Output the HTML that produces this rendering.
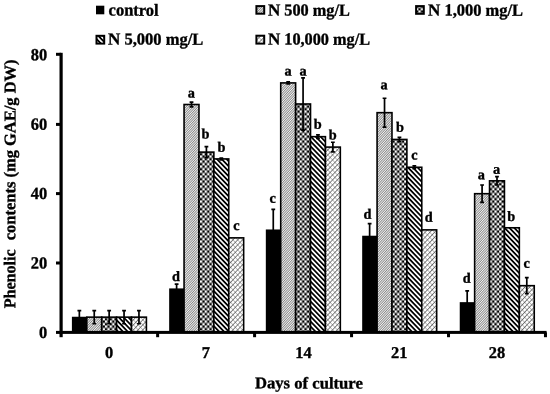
<!DOCTYPE html>
<html><head><meta charset="utf-8"><title>chart</title>
<style>
html,body{margin:0;padding:0;background:#fff;}
svg{display:block;will-change:transform;}
text{font-family:"Liberation Serif",serif;font-weight:bold;fill:#000;stroke:#000;stroke-width:0.35px;stroke-linejoin:round;}
</style></head><body>
<svg width="550" height="394" viewBox="0 0 550 394">
<defs>
<pattern id="p1" patternUnits="userSpaceOnUse" width="1.72" height="8" patternTransform="rotate(43.5)">
<rect width="1.72" height="8" fill="#f4f4f4"/>
<rect x="0" y="0" width="0.52" height="8" fill="#3c3c3c"/>
</pattern>
<pattern id="p2" patternUnits="userSpaceOnUse" width="4.75" height="5" x="0.4" y="0.4">
<rect width="4.75" height="5" fill="#000"/>
<rect x="0" y="0" width="2.375" height="2.5" fill="#fff"/>
<rect x="2.375" y="2.5" width="2.375" height="2.5" fill="#fff"/>
</pattern>
<pattern id="p3" patternUnits="userSpaceOnUse" width="3.47" height="8" patternTransform="rotate(-43.9)">
<rect width="3.47" height="8" fill="#fff"/>
<rect x="0" y="0" width="1.76" height="8" fill="#000"/>
</pattern>
<pattern id="p4a" patternUnits="userSpaceOnUse" width="3.44" height="8" patternTransform="rotate(-43.5)">
<rect width="3.44" height="8" fill="#fff"/>
<rect x="0" y="0" width="0.55" height="8" fill="#8c8c8c"/>
</pattern>
<pattern id="p4b" patternUnits="userSpaceOnUse" width="3.44" height="8" patternTransform="rotate(43.5)">
<rect x="0" y="0" width="0.7" height="8" fill="#505050"/>
</pattern>
</defs>
<rect width="550" height="394" fill="#fff"/>

<rect x="96.00" y="5.70" width="8.30" height="8.60" fill="#000"/>
<text transform="rotate(0.06 108.9 15.6)" x="108.60" y="15.6" font-size="17" textLength="50.10" lengthAdjust="spacingAndGlyphs">control</text>
<rect x="256.40" y="6.10" width="7.80" height="7.60" fill="url(#p1)" stroke="#000" stroke-width="2.0"/>
<text transform="rotate(0.06 267.9 15.6)" x="267.90" y="15.6" font-size="17" textLength="12.3" lengthAdjust="spacingAndGlyphs">N</text>
<text transform="rotate(0.06 280.2 15.6)" x="280.20" y="15.6" font-size="17" textLength="69.70" lengthAdjust="spacingAndGlyphs" xml:space="preserve"> 500 mg/L</text>
<rect x="416.10" y="6.10" width="7.70" height="7.70" fill="url(#p2)" stroke="#000" stroke-width="2.0"/>
<text transform="rotate(0.06 428.1 15.6)" x="428.10" y="15.6" font-size="17" textLength="12.3" lengthAdjust="spacingAndGlyphs">N</text>
<text transform="rotate(0.06 440.4 15.6)" x="440.40" y="15.6" font-size="17" textLength="82.70" lengthAdjust="spacingAndGlyphs" xml:space="preserve"> 1,000 mg/L</text>
<rect x="96.50" y="35.80" width="7.70" height="7.80" fill="url(#p3)" stroke="#000" stroke-width="2.0"/>
<text transform="rotate(0.06 108.0 44.6)" x="108.00" y="44.6" font-size="17" textLength="12.3" lengthAdjust="spacingAndGlyphs">N</text>
<text transform="rotate(0.06 120.3 44.6)" x="120.30" y="44.6" font-size="17" textLength="83.00" lengthAdjust="spacingAndGlyphs" xml:space="preserve"> 5,000 mg/L</text>
<rect x="256.40" y="35.70" width="7.80" height="7.90" fill="url(#p4a)"/>
<rect x="256.40" y="35.70" width="7.80" height="7.90" fill="url(#p4b)" stroke="#000" stroke-width="2.0"/>
<text transform="rotate(0.06 267.9 44.6)" x="267.90" y="44.6" font-size="17" textLength="12.3" lengthAdjust="spacingAndGlyphs">N</text>
<text transform="rotate(0.06 280.2 44.6)" x="280.20" y="44.6" font-size="17" textLength="89.90" lengthAdjust="spacingAndGlyphs" xml:space="preserve"> 10,000 mg/L</text>
<rect x="71.90" y="316.75" width="15.70" height="15.65" fill="#000"/>
<rect x="86.80" y="317.15" width="14.90" height="15.25" fill="url(#p1)" stroke="#000" stroke-width="1.6"/>
<rect x="101.70" y="317.15" width="14.90" height="15.25" fill="url(#p2)" stroke="#000" stroke-width="1.6"/>
<rect x="116.60" y="317.15" width="14.90" height="15.25" fill="url(#p3)" stroke="#000" stroke-width="1.6"/>
<rect x="131.50" y="317.15" width="14.90" height="15.25" fill="url(#p4a)"/>
<rect x="131.50" y="317.15" width="14.90" height="15.25" fill="url(#p4b)" stroke="#000" stroke-width="1.6"/>
<path d="M79.35,310.64 L79.35,323.86 M77.45,310.64 L81.25,310.64 M77.45,323.86 L81.25,323.86" stroke="#000" stroke-width="1.7" fill="none"/>
<path d="M94.25,310.54 L94.25,323.76 M92.35,310.54 L96.15,310.54 M92.35,323.76 L96.15,323.76" stroke="#000" stroke-width="1.7" fill="none"/>
<path d="M109.15,310.54 L109.15,323.76 M107.25,310.54 L111.05,310.54 M107.25,323.76 L111.05,323.76" stroke="#000" stroke-width="1.7" fill="none"/>
<path d="M124.05,310.54 L124.05,323.76 M122.15,310.54 L125.95,310.54 M122.15,323.76 L125.95,323.76" stroke="#000" stroke-width="1.7" fill="none"/>
<path d="M138.95,310.54 L138.95,323.76 M137.05,310.54 L140.85,310.54 M137.05,323.76 L140.85,323.76" stroke="#000" stroke-width="1.7" fill="none"/>
<rect x="169.16" y="288.41" width="15.70" height="43.99" fill="#000"/>
<rect x="184.06" y="104.50" width="14.90" height="227.90" fill="url(#p1)" stroke="#000" stroke-width="1.6"/>
<rect x="198.96" y="152.11" width="14.90" height="180.29" fill="url(#p2)" stroke="#000" stroke-width="1.6"/>
<rect x="213.86" y="158.92" width="14.90" height="173.47" fill="url(#p3)" stroke="#000" stroke-width="1.6"/>
<rect x="228.76" y="237.86" width="14.90" height="94.54" fill="url(#p4a)"/>
<rect x="228.76" y="237.86" width="14.90" height="94.54" fill="url(#p4b)" stroke="#000" stroke-width="1.6"/>
<path d="M176.61,284.04 L176.61,293.78 M174.71,284.04 L178.51,284.04 M174.71,293.78 L178.51,293.78" stroke="#000" stroke-width="1.7" fill="none"/>
<path d="M191.51,102.07 L191.51,106.94 M189.61,102.07 L193.41,102.07 M189.61,106.94 L193.41,106.94" stroke="#000" stroke-width="1.7" fill="none"/>
<path d="M206.41,146.55 L206.41,157.67 M204.51,146.55 L208.31,146.55 M204.51,157.67 L208.31,157.67" stroke="#000" stroke-width="1.7" fill="none"/>
<path d="M221.31,158.06 L221.31,159.79 M219.41,158.06 L223.21,158.06 M219.41,159.79 L223.21,159.79" stroke="#000" stroke-width="1.7" fill="none"/>
<rect x="265.82" y="229.47" width="15.70" height="102.93" fill="#000"/>
<rect x="280.72" y="82.91" width="14.90" height="249.49" fill="url(#p1)" stroke="#000" stroke-width="1.6"/>
<rect x="295.62" y="103.98" width="14.90" height="228.42" fill="url(#p2)" stroke="#000" stroke-width="1.6"/>
<rect x="310.52" y="136.67" width="14.90" height="195.73" fill="url(#p3)" stroke="#000" stroke-width="1.6"/>
<rect x="325.42" y="147.10" width="14.90" height="185.30" fill="url(#p4a)"/>
<rect x="325.42" y="147.10" width="14.90" height="185.30" fill="url(#p4b)" stroke="#000" stroke-width="1.6"/>
<path d="M273.27,209.45 L273.27,250.48 M271.37,209.45 L275.17,209.45 M271.37,250.48 L275.17,250.48" stroke="#000" stroke-width="1.7" fill="none"/>
<path d="M288.17,81.86 L288.17,83.95 M286.27,81.86 L290.07,81.86 M286.27,83.95 L290.07,83.95" stroke="#000" stroke-width="1.7" fill="none"/>
<path d="M303.07,77.90 L303.07,130.06 M301.17,77.90 L304.97,77.90 M301.17,130.06 L304.97,130.06" stroke="#000" stroke-width="1.7" fill="none"/>
<path d="M317.97,134.93 L317.97,138.41 M316.07,134.93 L319.87,134.93 M316.07,138.41 L319.87,138.41" stroke="#000" stroke-width="1.7" fill="none"/>
<path d="M332.87,142.23 L332.87,151.97 M330.97,142.23 L334.77,142.23 M330.97,151.97 L334.77,151.97" stroke="#000" stroke-width="1.7" fill="none"/>
<rect x="362.18" y="235.73" width="15.70" height="96.67" fill="#000"/>
<rect x="377.08" y="112.67" width="14.90" height="219.73" fill="url(#p1)" stroke="#000" stroke-width="1.6"/>
<rect x="391.98" y="139.45" width="14.90" height="192.95" fill="url(#p2)" stroke="#000" stroke-width="1.6"/>
<rect x="406.88" y="167.27" width="14.90" height="165.13" fill="url(#p3)" stroke="#000" stroke-width="1.6"/>
<rect x="421.78" y="229.87" width="14.90" height="102.53" fill="url(#p4a)"/>
<rect x="421.78" y="229.87" width="14.90" height="102.53" fill="url(#p4b)" stroke="#000" stroke-width="1.6"/>
<path d="M369.63,223.53 L369.63,248.92 M367.73,223.53 L371.53,223.53 M367.73,248.92 L371.53,248.92" stroke="#000" stroke-width="1.7" fill="none"/>
<path d="M384.53,98.24 L384.53,127.11 M382.63,98.24 L386.43,98.24 M382.63,127.11 L386.43,127.11" stroke="#000" stroke-width="1.7" fill="none"/>
<path d="M399.43,137.36 L399.43,141.54 M397.53,137.36 L401.33,137.36 M397.53,141.54 L401.33,141.54" stroke="#000" stroke-width="1.7" fill="none"/>
<path d="M414.33,165.88 L414.33,168.66 M412.43,165.88 L416.23,165.88 M412.43,168.66 L416.23,168.66" stroke="#000" stroke-width="1.7" fill="none"/>
<rect x="459.74" y="302.15" width="15.70" height="30.25" fill="#000"/>
<rect x="474.64" y="193.70" width="14.90" height="138.70" fill="url(#p1)" stroke="#000" stroke-width="1.6"/>
<rect x="489.54" y="180.83" width="14.90" height="151.57" fill="url(#p2)" stroke="#000" stroke-width="1.6"/>
<rect x="504.44" y="227.78" width="14.90" height="104.62" fill="url(#p3)" stroke="#000" stroke-width="1.6"/>
<rect x="519.34" y="285.68" width="14.90" height="46.72" fill="url(#p4a)"/>
<rect x="519.34" y="285.68" width="14.90" height="46.72" fill="url(#p4b)" stroke="#000" stroke-width="1.6"/>
<path d="M467.19,290.82 L467.19,314.47 M465.29,290.82 L469.09,290.82 M465.29,314.47 L469.09,314.47" stroke="#000" stroke-width="1.7" fill="none"/>
<path d="M482.09,185.01 L482.09,202.39 M480.19,185.01 L483.99,185.01 M480.19,202.39 L483.99,202.39" stroke="#000" stroke-width="1.7" fill="none"/>
<path d="M496.99,176.66 L496.99,185.01 M495.09,176.66 L498.89,176.66 M495.09,185.01 L498.89,185.01" stroke="#000" stroke-width="1.7" fill="none"/>
<path d="M526.79,277.68 L526.79,293.68 M524.89,277.68 L528.69,277.68 M524.89,293.68 L528.69,293.68" stroke="#000" stroke-width="1.7" fill="none"/>
<rect x="59.5" y="52.8" width="3.2" height="284.4" fill="#000"/>
<rect x="59.5" y="330.9" width="487.1" height="3" fill="#000"/>
<rect x="56" y="330.90" width="5" height="3" fill="#000"/>
<text transform="rotate(0.06 47 337.9)" x="47.2" y="337.90" font-size="17" text-anchor="end" textLength="8.2" lengthAdjust="spacingAndGlyphs">0</text>
<rect x="56" y="261.50" width="5" height="3" fill="#000"/>
<text transform="rotate(0.06 47 268.6)" x="47.2" y="268.60" font-size="17" text-anchor="end" textLength="16.4" lengthAdjust="spacingAndGlyphs">20</text>
<rect x="56" y="192.10" width="5" height="3" fill="#000"/>
<text transform="rotate(0.06 47 199.1)" x="47.2" y="199.10" font-size="17" text-anchor="end" textLength="16.4" lengthAdjust="spacingAndGlyphs">40</text>
<rect x="56" y="122.90" width="5" height="3" fill="#000"/>
<text transform="rotate(0.06 47 129.8)" x="47.2" y="129.80" font-size="17" text-anchor="end" textLength="16.4" lengthAdjust="spacingAndGlyphs">60</text>
<rect x="56" y="52.80" width="5" height="3" fill="#000"/>
<text transform="rotate(0.06 47 60.3)" x="47.2" y="60.30" font-size="17" text-anchor="end" textLength="16.4" lengthAdjust="spacingAndGlyphs">80</text>
<rect x="156.13" y="332.4" width="3" height="4.8" fill="#000"/>
<rect x="253.09" y="332.4" width="3" height="4.8" fill="#000"/>
<rect x="350.05" y="332.4" width="3" height="4.8" fill="#000"/>
<rect x="447.01" y="332.4" width="3" height="4.8" fill="#000"/>
<rect x="543.97" y="332.4" width="3" height="4.8" fill="#000"/>
<text transform="rotate(0.06 109.1 358)" x="109.10" y="357.9" font-size="16.5" text-anchor="middle" textLength="8.2" lengthAdjust="spacingAndGlyphs">0</text>
<text transform="rotate(0.06 205.8 358)" x="205.80" y="357.9" font-size="16.5" text-anchor="middle" textLength="8.2" lengthAdjust="spacingAndGlyphs">7</text>
<text transform="rotate(0.06 303.4 358)" x="303.40" y="357.9" font-size="16.5" text-anchor="middle" textLength="16.4" lengthAdjust="spacingAndGlyphs">14</text>
<text transform="rotate(0.06 399.3 358)" x="399.30" y="357.9" font-size="16.5" text-anchor="middle" textLength="16.4" lengthAdjust="spacingAndGlyphs">21</text>
<text transform="rotate(0.06 497.0 358)" x="497.00" y="357.9" font-size="16.5" text-anchor="middle" textLength="16.4" lengthAdjust="spacingAndGlyphs">28</text>
<text transform="rotate(0.06 176 280.9)" x="176" y="280.9" font-size="14.3" text-anchor="middle">d</text>
<text transform="rotate(0.06 191.3 97.4)" x="191.3" y="97.4" font-size="14.3" text-anchor="middle">a</text>
<text transform="rotate(0.06 205.5 138.5)" x="205.5" y="138.5" font-size="14.3" text-anchor="middle">b</text>
<text transform="rotate(0.06 221.5 151.8)" x="221.5" y="151.8" font-size="14.3" text-anchor="middle">b</text>
<text transform="rotate(0.06 236.4 230.0)" x="236.4" y="230.0" font-size="14.3" text-anchor="middle">c</text>
<text transform="rotate(0.06 272.8 202.7)" x="272.8" y="202.7" font-size="14.3" text-anchor="middle">c</text>
<text transform="rotate(0.06 288.1 75.5)" x="288.1" y="75.5" font-size="14.3" text-anchor="middle">a</text>
<text transform="rotate(0.06 303 75.5)" x="303" y="75.5" font-size="14.3" text-anchor="middle">a</text>
<text transform="rotate(0.06 317.7 128.7)" x="317.7" y="128.7" font-size="14.3" text-anchor="middle">b</text>
<text transform="rotate(0.06 332.8 139.6)" x="332.8" y="139.6" font-size="14.3" text-anchor="middle">b</text>
<text transform="rotate(0.06 367.6 218.7)" x="367.6" y="218.7" font-size="14.3" text-anchor="middle">d</text>
<text transform="rotate(0.06 384 89.2)" x="384" y="89.2" font-size="14.3" text-anchor="middle">a</text>
<text transform="rotate(0.06 400 131.8)" x="400" y="131.8" font-size="14.3" text-anchor="middle">b</text>
<text transform="rotate(0.06 414.5 159.5)" x="414.5" y="159.5" font-size="14.3" text-anchor="middle">c</text>
<text transform="rotate(0.06 428.7 221.8)" x="428.7" y="221.8" font-size="14.3" text-anchor="middle">d</text>
<text transform="rotate(0.06 466.7 282.8)" x="466.7" y="282.8" font-size="14.3" text-anchor="middle">d</text>
<text transform="rotate(0.06 481.3 179.2)" x="481.3" y="179.2" font-size="14.3" text-anchor="middle">a</text>
<text transform="rotate(0.06 496.7 173.8)" x="496.7" y="173.8" font-size="14.3" text-anchor="middle">a</text>
<text transform="rotate(0.06 511.3 220.9)" x="511.3" y="220.9" font-size="14.3" text-anchor="middle">b</text>
<text transform="rotate(0.06 526.7 267.8)" x="526.7" y="267.8" font-size="14.3" text-anchor="middle">c</text>
<text transform="rotate(0.06 309 388)" x="308.9" y="388.4" font-size="16.3" text-anchor="middle" textLength="107.9" lengthAdjust="spacingAndGlyphs">Days of culture</text>
<text transform="translate(15.3,308.3) rotate(-89.94)" font-size="16.5" textLength="59.0" lengthAdjust="spacingAndGlyphs">Phenolic</text>
<text transform="translate(15.3,240.2) rotate(-89.94)" font-size="16.5" textLength="180.7" lengthAdjust="spacingAndGlyphs">contents (mg GAE/g DW)</text>
</svg></body></html>
